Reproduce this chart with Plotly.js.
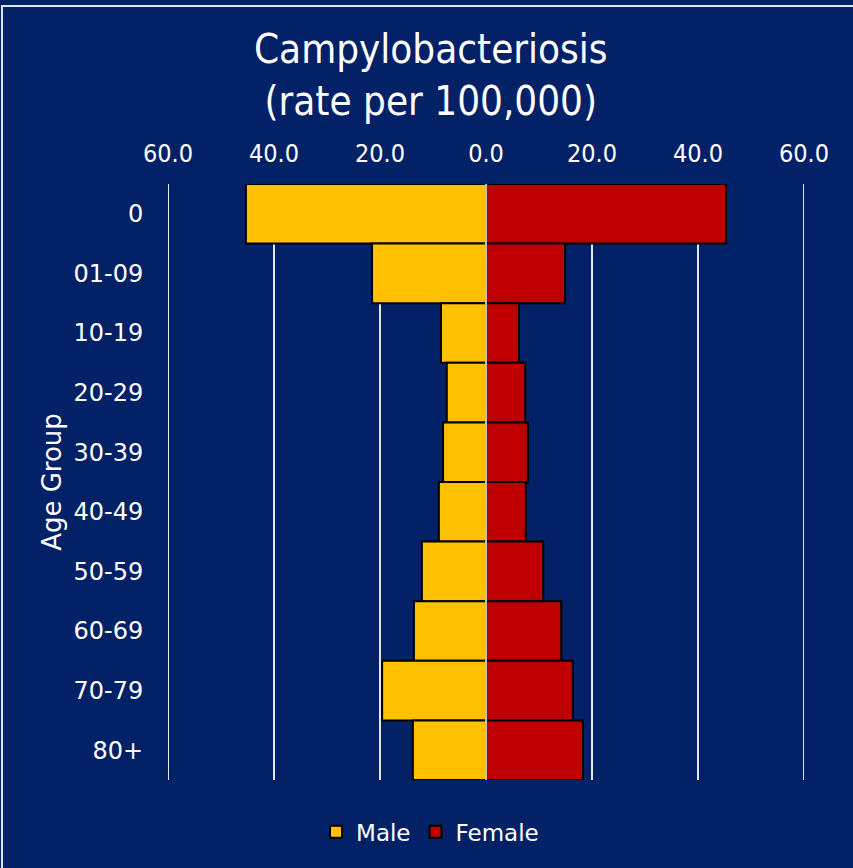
<!DOCTYPE html>
<html>
<head>
<meta charset="utf-8">
<script src="https://cdn.plot.ly/plotly-3.0.1.min.js"></script>
<style>
  html, body { margin: 0; padding: 0; background: #032167; }
  #wrap { position: relative; width: 853px; height: 868px; overflow: hidden; }
  #chart { position: absolute; left: 0; top: 0; width: 853px; height: 868px; }
  #frame { position: absolute; left: 1px; top: 5px; width: 860px; height: 870px;
           border-top: 2px solid #dfe3ea; border-left: 2px solid #dfe3ea; pointer-events: none; }
</style>
</head>
<body>
<div id="wrap">
  <div id="chart"></div>
  <div id="frame"></div>
</div>
<script>
const ageGroups = ["0", "01-09", "10-19", "20-29", "30-39", "40-49", "50-59", "60-69", "70-79", "80+"];
const maleRates = [45.3, 21.5, 8.5, 7.4, 8.1, 8.9, 12.1, 13.6, 19.6, 13.8];
const femaleRates = [45.3, 14.9, 6.2, 7.4, 7.9, 7.5, 10.8, 14.2, 16.4, 18.3];
const tickValues = [-60, -40, -20, 0, 20, 40, 60];
const tickLabels = ["60.0", "40.0", "20.0", "0.0", "20.0", "40.0", "60.0"];

const navy = "#032167";

const traces = [
  {
    type: "bar", orientation: "h", name: "Male",
    y: ageGroups, x: maleRates.map(v => -v),
    marker: { color: "#FFC000", line: { color: "#000000", width: 2 } },
    hoverinfo: "skip"
  },
  {
    type: "bar", orientation: "h", name: "Female",
    y: ageGroups, x: femaleRates,
    marker: { color: "#C00000", line: { color: "#000000", width: 2 } },
    hoverinfo: "skip"
  }
];

const edgeLines = [-60, 60].map(v => ({
  type: "line", xref: "x", yref: "paper", x0: v, x1: v, y0: 0, y1: 1,
  layer: "below", line: { color: "#e6e6e6", width: 2 }
}));

const layout = {
  width: 853, height: 868,
  paper_bgcolor: navy, plot_bgcolor: navy,
  margin: { l: 168, r: 49, t: 184, b: 88 },
  barmode: "overlay", bargap: 0,
  title: {
    text: "Campylobacteriosis<br>(rate per 100,000)",
    font: { family: "DejaVu Sans Condensed, DejaVu Sans", size: 40, color: "#ffffff" },
    xref: "container", x: 0.505, xanchor: "center",
    yref: "container", y: 0.927, yanchor: "top"
  },
  xaxis: {
    side: "top", range: [-60, 60], fixedrange: true,
    tickvals: tickValues, ticktext: tickLabels,
    tickfont: { family: "DejaVu Sans Condensed, DejaVu Sans", size: 25, color: "#ffffff" },
    ticks: "outside", ticklen: 11, tickcolor: "rgba(0,0,0,0)",
    showgrid: true, gridcolor: "#e6e6e6", gridwidth: 2,
    zeroline: false, showline: false
  },
  yaxis: {
    type: "category", autorange: "reversed",
    tickfont: { family: "DejaVu Sans", size: 24, color: "#ffffff" },
    ticks: "outside", ticklen: 19, tickcolor: "rgba(0,0,0,0)",
    showgrid: false, zeroline: false, showline: false,
    title: { text: "Age Group", standoff: 4,
             font: { family: "DejaVu Sans", size: 26, color: "#ffffff" } }
  },
  shapes: edgeLines.concat([
    { type: "line", xref: "x", yref: "paper", x0: 0, x1: 0, y0: 0, y1: 1,
      layer: "above", line: { color: "#bfbfbf", width: 2 } }
  ]),
  showlegend: true,
  legend: {
    orientation: "h", xref: "paper", x: 0.412, xanchor: "center",
    yref: "paper", y: -0.087, yanchor: "middle",
    font: { family: "DejaVu Sans", size: 23, color: "#ffffff" },
    bgcolor: "rgba(0,0,0,0)", itemwidth: 30, tracegroupgap: 0
  }
};

Plotly.newPlot("chart", traces, layout, { displayModeBar: false, staticPlot: true });
</script>
</body>
</html>
